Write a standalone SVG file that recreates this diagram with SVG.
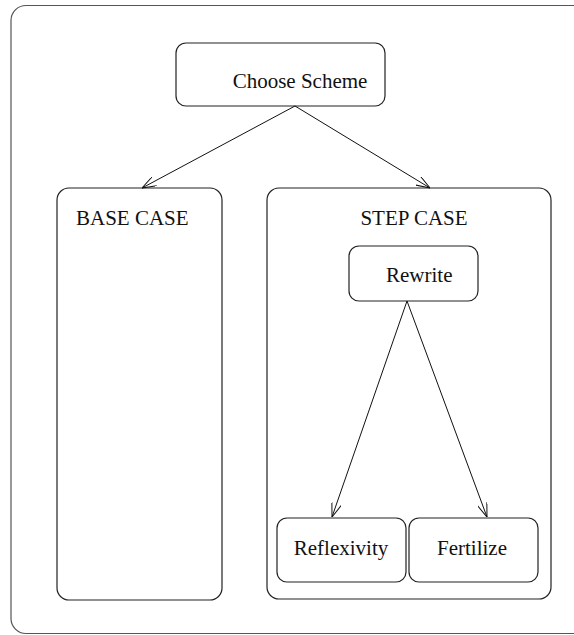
<svg xmlns="http://www.w3.org/2000/svg" width="574" height="635" viewBox="0 0 574 635">
<style>
.box{fill:#fff;stroke:#222;stroke-width:1.2}
.lbl{font-family:"Liberation Serif","Times New Roman",serif;font-size:21px;fill:#111}
.con{stroke:#111;stroke-width:1;fill:none;marker-end:url(#arr)}
</style>
<defs>
<marker id="arr" viewBox="0 0 14 10" refX="14" refY="5" markerWidth="14" markerHeight="10" markerUnits="userSpaceOnUse" orient="auto">
<path d="M0,0 L14,5 L0,10" fill="none" stroke="#111" stroke-width="1"/>
</marker>
</defs>
<rect width="574" height="635" fill="#fff"/>
<g id="frame"><rect x="11" y="5.5" width="600" height="628" rx="15" fill="#fff" stroke="#555" stroke-width="1.2"/></g>
<g id="choose"><rect class="box" x="176" y="43" width="209" height="63" rx="10"/><text class="lbl" x="300" y="88" text-anchor="middle">Choose Scheme</text></g>
<g id="base"><rect class="box" x="57" y="188" width="165" height="412" rx="12"/><text class="lbl" x="76" y="225">BASE CASE</text></g>
<g id="step"><rect class="box" x="267" y="188" width="284" height="411" rx="12"/><text class="lbl" x="414" y="225" text-anchor="middle">STEP CASE</text></g>
<g id="rewrite"><rect class="box" x="349" y="246" width="129" height="55" rx="10"/><text class="lbl" x="386" y="282">Rewrite</text></g>
<g id="reflexivity"><rect class="box" x="277" y="518" width="129" height="64" rx="10"/><text class="lbl" x="341" y="555" text-anchor="middle">Reflexivity</text></g>
<g id="fertilize"><rect class="box" x="409" y="518" width="129" height="64" rx="10"/><text class="lbl" x="472" y="555" text-anchor="middle">Fertilize</text></g>
<g id="connectors">
<line class="con" x1="295" y1="106" x2="142" y2="188"/>
<line class="con" x1="295" y1="106" x2="430" y2="188"/>
<line class="con" x1="407" y1="301" x2="332" y2="517"/>
<line class="con" x1="407" y1="301" x2="487" y2="517"/>
</g>
</svg>
